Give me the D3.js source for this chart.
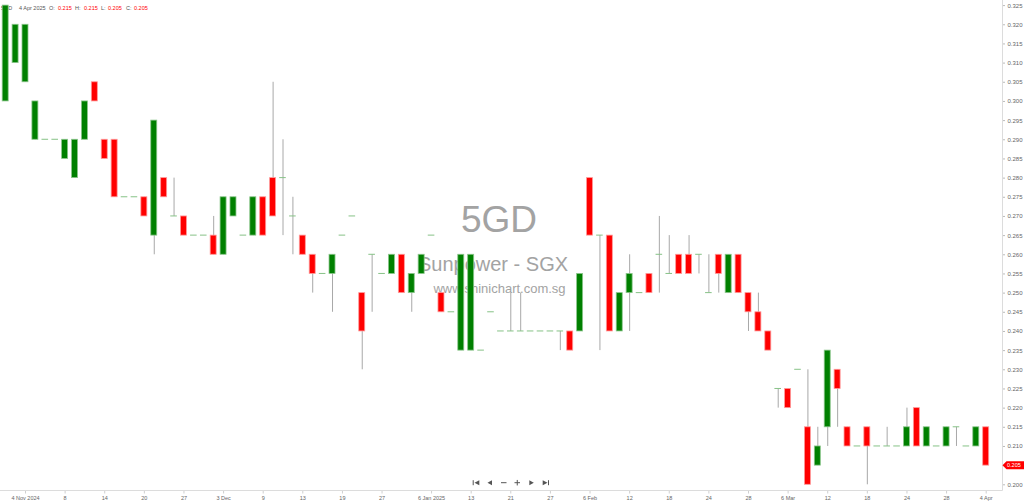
<!DOCTYPE html>
<html><head><meta charset="utf-8">
<script src="https://cdn.jsdelivr.net/npm/d3@7/dist/d3.min.js"></script>
<style>
html,body{margin:0;padding:0;background:#fff;}
svg{display:block;font-family:"Liberation Sans",Arial,sans-serif;}
</style></head>
<body>
<svg id="chart" width="1024" height="502"></svg>
<script>
// ---------- DATA ----------
const dates = ["2024-10-30","2024-11-01",
"2024-11-04","2024-11-05","2024-11-06","2024-11-07","2024-11-08","2024-11-11","2024-11-12","2024-11-13","2024-11-14","2024-11-15",
"2024-11-18","2024-11-19","2024-11-20","2024-11-21","2024-11-22","2024-11-26","2024-11-27","2024-11-28","2024-11-29","2024-12-02",
"2024-12-03","2024-12-04","2024-12-05","2024-12-06","2024-12-09","2024-12-10","2024-12-11","2024-12-12","2024-12-13","2024-12-16",
"2024-12-17","2024-12-18","2024-12-19","2024-12-20","2024-12-23","2024-12-26","2024-12-27","2024-12-30","2024-12-31","2025-01-02",
"2025-01-03","2025-01-06","2025-01-07","2025-01-09","2025-01-10","2025-01-13","2025-01-14","2025-01-16","2025-01-20","2025-01-21",
"2025-01-22","2025-01-23","2025-01-24","2025-01-27","2025-01-28","2025-02-03","2025-02-05","2025-02-06","2025-02-07","2025-02-10",
"2025-02-11","2025-02-12","2025-02-13","2025-02-14","2025-02-17","2025-02-18","2025-02-19","2025-02-20","2025-02-21","2025-02-24",
"2025-02-25","2025-02-26","2025-02-27","2025-02-28","2025-03-03","2025-03-04","2025-03-05","2025-03-06","2025-03-07","2025-03-10",
"2025-03-11","2025-03-12","2025-03-13","2025-03-14","2025-03-17","2025-03-18","2025-03-19","2025-03-20","2025-03-21","2025-03-24",
"2025-03-25","2025-03-26","2025-03-27","2025-03-28","2025-04-01","2025-04-02","2025-04-03","2025-04-04"];

const open = [0.300,0.310,
0.305,0.290,0.290,0.290,0.285,0.280,0.290,0.305,0.290,0.290,
0.275,0.275,0.275,0.265,0.280,0.270,0.270,0.265,0.265,0.265,
0.260,0.270,0.265,0.265,0.275,0.280,0.280,0.270,0.265,0.260,
0.255,0.255,0.265,0.270,0.250,0.260,0.255,0.255,0.260,0.250,
0.255,0.265,0.250,0.245,0.235,0.235,0.235,0.245,0.240,0.240,
0.240,0.240,0.240,0.240,0.240,0.240,0.240,0.280,0.265,0.265,
0.240,0.250,0.250,0.255,0.260,0.255,0.260,0.260,0.260,0.250,
0.260,0.250,0.260,0.250,0.245,0.240,0.225,0.225,0.230,0.215,
0.205,0.215,0.230,0.215,0.210,0.215,0.210,0.210,0.210,0.210,
0.220,0.210,0.210,0.210,0.215,0.210,0.210,0.215];

const high = [0.325,0.320,
0.320,0.300,0.290,0.290,0.290,0.290,0.300,0.305,0.290,0.290,
0.275,0.275,0.275,0.295,0.280,0.280,0.270,0.265,0.265,0.270,
0.275,0.275,0.265,0.275,0.275,0.305,0.290,0.275,0.265,0.260,
0.255,0.260,0.265,0.270,0.250,0.260,0.255,0.260,0.260,0.255,
0.260,0.265,0.250,0.245,0.260,0.260,0.235,0.245,0.240,0.250,
0.250,0.240,0.240,0.240,0.240,0.240,0.255,0.280,0.265,0.265,
0.250,0.260,0.250,0.255,0.270,0.265,0.260,0.265,0.260,0.260,
0.260,0.260,0.260,0.250,0.250,0.240,0.225,0.225,0.230,0.230,
0.215,0.235,0.230,0.215,0.210,0.215,0.210,0.215,0.210,0.220,
0.220,0.215,0.210,0.215,0.215,0.210,0.215,0.215];

const low = [0.300,0.310,
0.305,0.290,0.290,0.290,0.285,0.280,0.290,0.300,0.285,0.275,
0.275,0.275,0.270,0.260,0.275,0.270,0.265,0.265,0.265,0.260,
0.260,0.270,0.265,0.265,0.265,0.270,0.265,0.260,0.260,0.250,
0.255,0.245,0.265,0.270,0.230,0.245,0.255,0.255,0.250,0.245,
0.255,0.265,0.245,0.245,0.235,0.235,0.235,0.245,0.240,0.240,
0.240,0.240,0.240,0.240,0.235,0.235,0.240,0.265,0.235,0.240,
0.240,0.240,0.250,0.250,0.250,0.255,0.255,0.255,0.255,0.250,
0.250,0.250,0.250,0.240,0.240,0.235,0.220,0.220,0.230,0.200,
0.205,0.210,0.215,0.210,0.210,0.200,0.210,0.210,0.210,0.210,
0.210,0.210,0.210,0.210,0.210,0.210,0.210,0.205];

const close = [0.325,0.320,
0.320,0.300,0.290,0.290,0.290,0.290,0.300,0.300,0.285,0.275,
0.275,0.275,0.270,0.295,0.275,0.270,0.265,0.265,0.265,0.260,
0.275,0.275,0.265,0.275,0.265,0.270,0.280,0.270,0.260,0.255,
0.255,0.260,0.265,0.270,0.240,0.260,0.255,0.260,0.250,0.255,
0.260,0.265,0.245,0.245,0.260,0.260,0.235,0.245,0.240,0.240,
0.240,0.240,0.240,0.240,0.240,0.235,0.255,0.265,0.265,0.240,
0.250,0.255,0.250,0.250,0.260,0.255,0.255,0.255,0.260,0.250,
0.255,0.260,0.250,0.245,0.240,0.235,0.225,0.220,0.230,0.200,
0.210,0.235,0.225,0.210,0.210,0.210,0.210,0.210,0.210,0.215,
0.210,0.215,0.210,0.215,0.215,0.210,0.215,0.205];

const tickDates = ["2024-11-04","2024-11-08","2024-11-14","2024-11-20","2024-11-27","2024-12-03","2024-12-09","2024-12-13",
"2024-12-19","2024-12-27","2025-01-06","2025-01-13","2025-01-21","2025-01-27","2025-02-06","2025-02-12","2025-02-18",
"2025-02-24","2025-02-28","2025-03-06","2025-03-12","2025-03-18","2025-03-24","2025-03-28","2025-04-04"];
const tickLabels = ["4 Nov 2024","8","14","20","27","3 Dec","9","13","19","27","6 Jan 2025","13","21","27","6 Feb","12","18",
"24","28","6 Mar","12","18","24","28","4 Apr"];
const yTicks = [0.200,0.205,0.210,0.215,0.220,0.225,0.230,0.235,0.240,0.245,0.250,0.255,0.260,0.265,0.270,0.275,
0.280,0.285,0.290,0.295,0.300,0.305,0.310,0.315,0.320,0.325];

const symbol = "5GD";
const company = "Sunpower - SGX";
const site = "www.shinichart.com.sg";
const headerDate = "4 Apr 2025";

// ---------- CHART ----------
const svg = d3.select("#chart");
const W = 1024, H = 502;
const plotRight = 1002.5, axisY = 490.5;
const step = 9.904;

const x = d3.scalePoint().domain(dates).range([25 - 2*step, 25 + 97*step]);
const y = d3.scaleLinear().domain([0.200, 0.325]).range([484.3, 5.1]);

svg.append("rect").attr("width", W).attr("height", H).attr("fill", "#fff");

// watermark
const wm = svg.append("g").attr("fill", "#a3a3a3").attr("text-anchor", "middle");
wm.append("text").attr("x", 499).attr("y", 232).attr("font-size", 37).text(symbol);
wm.append("text").attr("x", 493).attr("y", 270.5).attr("font-size", 20).text(company);
wm.append("text").attr("x", 499.5).attr("y", 293).attr("font-size", 13).text(site);

// header
const last = dates.length - 1;
const hdr = svg.append("g").attr("font-size", 5.5);
const f3 = d3.format(".3f");
const hdrItems = [
  [1, symbol, "#555"], [19, headerDate, "#555"],
  [49, "O:", "#555"], [58, f3(open[last]), "#f00"],
  [75, "H:", "#555"], [84, f3(high[last]), "#f00"],
  [101, "L:", "#555"], [108, f3(low[last]), "#f00"],
  [126, "C:", "#555"], [134, f3(close[last]), "#f00"]
];
hdr.selectAll("text").data(hdrItems).join("text")
  .attr("x", d => d[0]).attr("y", 10).attr("fill", d => d[2]).text(d => d[1]);

// candles
const candles = dates.map((d, i) => ({d, o: open[i], h: high[i], l: low[i], c: close[i]}));
const bw = 6;
const g = svg.append("g");
// wicks
g.selectAll("line.wick").data(candles.filter(c => c.h > c.l)).join("line")
  .attr("class", "wick")
  .attr("x1", c => x(c.d) + 0.5).attr("x2", c => x(c.d) + 0.5)
  .attr("y1", c => y(c.h)).attr("y2", c => y(c.l))
  .attr("stroke", "#a8a8a8").attr("stroke-width", 1);
// flat bodies (open == close)
g.selectAll("line.flat").data(candles.filter(c => c.o === c.c)).join("line")
  .attr("class", "flat")
  .attr("x1", c => x(c.d) - 3.3).attr("x2", c => x(c.d) + 3.3)
  .attr("y1", c => y(c.o)).attr("y2", c => y(c.o))
  .attr("stroke", "#86c286").attr("stroke-width", 1);
// bodies
g.selectAll("rect.body").data(candles.filter(c => c.o !== c.c)).join("rect")
  .attr("class", "body")
  .attr("x", c => x(c.d) - bw/2).attr("width", bw)
  .attr("y", c => y(Math.max(c.o, c.c)))
  .attr("height", c => y(Math.min(c.o, c.c)) - y(Math.max(c.o, c.c)))
  .attr("fill", c => c.c > c.o ? "#008000" : "#ff0000")
  .attr("stroke", c => c.c > c.o ? "#8cc68c" : "#ff9a9a")
  .attr("stroke-width", 0.8);

// x axis
const xAxis = d3.axisBottom(x).tickValues(tickDates)
  .tickFormat(d => tickLabels[tickDates.indexOf(d)]).tickSize(3).tickSizeOuter(0);
const gx = svg.append("g").attr("transform", `translate(0,${axisY})`).call(xAxis);
gx.select(".domain").remove();
gx.append("line").attr("x1", 0).attr("x2", plotRight).attr("stroke", "#dcdcdc");
gx.selectAll(".tick line").attr("stroke", "#cfcfcf");
gx.selectAll(".tick text").attr("font-size", 5.5).attr("fill", "#666").attr("dy", "0.55em")
  .attr("font-family", "Liberation Sans, Arial, sans-serif");

// y axis
const yAxis = d3.axisRight(y).tickValues(yTicks).tickFormat(d3.format(".3f")).tickSize(2.5).tickPadding(2.5);
const gy = svg.append("g").attr("transform", `translate(${plotRight},0)`).call(yAxis);
gy.select(".domain").remove();
gy.append("line").attr("y1", 0).attr("y2", axisY).attr("stroke", "#dcdcdc");
gy.selectAll(".tick line").attr("stroke", "#bbb");
gy.selectAll(".tick text").attr("font-size", 6).attr("fill", "#666")
  .attr("font-family", "Liberation Sans, Arial, sans-serif");

// last price tag
const ly = y(close[last]);
svg.append("path")
  .attr("d", `M${plotRight},${ly} L${plotRight+4},${ly-4} L${W},${ly-4} L${W},${ly+4} L${plotRight+4},${ly+4} Z`)
  .attr("fill", "#ff0000");
svg.append("text").attr("x", plotRight + 4.5).attr("y", ly + 2).attr("font-size", 5.5)
  .attr("fill", "#fff").text(f3(close[last]));

// navigation buttons
const nav = svg.append("g").attr("fill", "#555").attr("stroke", "#555");
const cy = 482.7;
nav.append("rect").attr("x", 472.7).attr("y", cy-2.5).attr("width", 1).attr("height", 5).attr("stroke", "none");
nav.append("path").attr("d", `M479.3,${cy-2.5} L474.5,${cy} L479.3,${cy+2.5} Z`).attr("stroke", "none");
nav.append("path").attr("d", `M492,${cy-2.5} L487.5,${cy} L492,${cy+2.5} Z`).attr("stroke", "none");
nav.append("line").attr("x1", 501).attr("x2", 506.5).attr("y1", cy).attr("y2", cy).attr("stroke-width", 1);
nav.append("line").attr("x1", 514.5).attr("x2", 520).attr("y1", cy).attr("y2", cy).attr("stroke-width", 1);
nav.append("line").attr("x1", 517.25).attr("x2", 517.25).attr("y1", cy-2.75).attr("y2", cy+2.75).attr("stroke-width", 1);
nav.append("path").attr("d", `M529.3,${cy-2.5} L533.8,${cy} L529.3,${cy+2.5} Z`).attr("stroke", "none");
nav.append("path").attr("d", `M542.7,${cy-2.5} L547.5,${cy} L542.7,${cy+2.5} Z`).attr("stroke", "none");
nav.append("rect").attr("x", 548).attr("y", cy-2.5).attr("width", 1).attr("height", 5).attr("stroke", "none");
</script>
</body></html>
